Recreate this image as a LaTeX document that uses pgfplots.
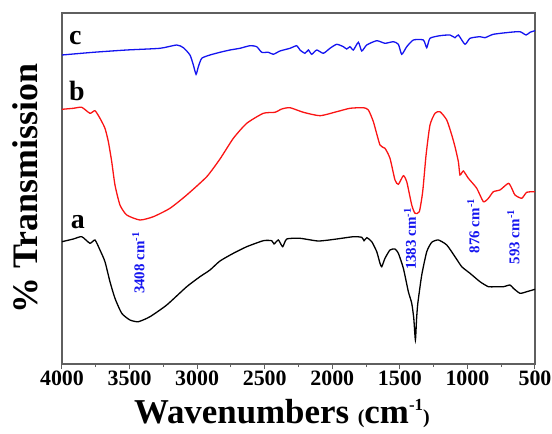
\documentclass[border=0pt]{standalone}
\usepackage{fontspec}
\setmainfont{Liberation Serif}
\usepackage{pgfplots}
\pgfplotsset{compat=1.18}
\definecolor{specblue}{RGB}{20,20,240}
\definecolor{specred}{RGB}{250,20,20}
\definecolor{axgray}{RGB}{95,95,95}
\begin{document}
\begin{tikzpicture}
\path[use as bounding box] (0,0) rectangle (552bp,434bp);
\begin{axis}[
    at={(62bp,70bp)}, anchor=south west,
    width=473bp, height=351bp, scale only axis,
    x dir=reverse,
    xmin=500, xmax=4000, ymin=0, ymax=351,
    xtick={500,1000,...,4000}, minor x tick num=1,
    ytick=\empty,
    xtick pos=bottom, tick align=outside,
    major tick length=5bp, minor tick length=3bp,
    /pgf/number format/1000 sep={},
    /pgf/number format/assume math mode=true,
    xticklabel style={font=\bfseries\fontsize{22}{22}\selectfont, inner sep=2bp},
    axis line style={draw=axgray, line width=1.2bp},
    tick style={draw=axgray, line width=1bp},
    xlabel={\bfseries\fontsize{35}{35}\selectfont Wavenumbers {\fontsize{20}{20}\selectfont(}cm\raisebox{13bp}{\fontsize{17}{17}\selectfont -1}{\fontsize{20}{20}\selectfont)}},
    xlabel style={at={(axis description cs:0.465,-0.14)}, anchor=center},
    ylabel={\% Transmission},
    ylabel style={at={(axis description cs:-0.078,0.5)}, anchor=center, font=\bfseries\fontsize{36}{36}\selectfont},
    clip=false,
    every axis plot/.append style={smooth, tension=0.35, line width=1.3bp},
]
% a
\addplot[black] coordinates {
(4000,122.3)(3916,125)(3854,127.3)(3793,120.7)(3756,124)(3719,114)(3682,102.3)
(3645,82.3)(3608,65.7)(3558,50.7)(3497,44)(3435,42.3)(3349,47.3)(3225,59)
(3077,77.3)(2979,87.3)(2905,94)(2831,103)(2732,110.7)(2633,117.3)(2510,123.3)
(2448,123.3)(2431,120)(2399,124)(2367,117.3)(2337,125)(2239,125.7)(2103,123)
(1967,125)(1844,127.3)(1782,126.7)(1765,123.3)(1745,126.3)(1708,122.3)(1671,112.3)
(1647,100.7)(1634,97.3)(1610,105.7)(1573,114)(1536,115)(1511,110.7)(1474,95.7)
(1437,72.3)(1412,60.7)(1397,45.7)(1385,24)(1376,45.7)(1367,60.7)(1338,89)
(1301,112.3)(1264,121.7)(1215,124)(1153,119)(1092,107.3)(1042,97.3)(981,90.7)
(907,82.3)(845,77.3)(796,77.3)(734,77.3)(685,79)(660,75.7)(611,70.7)(561,72.3)(500,74.7)
};
% b
\addplot[specred] coordinates {
(4000,254.7)(3916,255.7)(3854,256.7)(3793,250.7)(3756,253.3)(3719,245.7)(3682,235.7)
(3657,222.3)(3632,202.3)(3608,179)(3571,159)(3521,149)(3423,144)(3324,147.3)
(3201,155.7)(3077,169)(2929,187.3)(2831,205)(2732,225.7)(2633,240.7)(2510,250.7)
(2424,251.7)(2374,255)(2313,256.3)(2214,251.7)(2091,248.3)(1967,252.3)(1869,255.7)
(1770,256.3)(1733,254)(1696,242.3)(1647,219)(1610,215.7)(1573,205.7)(1536,184)
(1511,179.7)(1474,188.3)(1449,182.3)(1412,159)(1388,150.7)(1356,152.3)(1331,172.3)
(1306,209)(1277,239)(1240,250.7)(1203,252.3)(1153,244)(1116,229)(1092,217.3)
(1067,202.3)(1055,189)(1030,193)(993,185.7)(931,175.7)(882,162.3)(845,165.7)
(808,172.3)(759,174)(697,180.7)(672,175.7)(648,169)(598,165.7)(561,171.7)(500,172.3)
};
% c
\addplot[specblue] coordinates {
(4000,309)(3768,311.7)(3521,314)(3275,315.7)(3151,319)(3102,316.3)(3053,309)
(3028,299)(3008,289.7)(2991,297.3)(2966,305.7)(2905,309)(2831,311.7)(2757,314)
(2683,315.7)(2609,318.3)(2559,317.3)(2522,311.7)(2473,311.7)(2436,309.7)(2387,313)
(2313,315.7)(2263,318.3)(2239,314)(2202,310.7)(2177,314)(2152,309.7)(2115,314)
(2066,310.7)(2017,315.7)(1967,319.7)(1918,317.3)(1893,315)(1869,317.3)(1844,314)
(1807,321.7)(1782,313)(1745,319)(1671,323.3)(1610,320.7)(1548,322.3)(1511,319.7)
(1486,309.7)(1449,317.3)(1400,324)(1326,324)(1301,316.3)(1277,325.7)(1203,328.3)
(1129,329)(1092,326.3)(1067,329)(1018,319.7)(981,325.7)(907,327.3)(870,326.3)
(808,329.7)(685,331.7)(611,332.3)(566,329)(537,331.7)(500,333.3)
};
\node[anchor=base west, font=\bfseries\fontsize{28}{28}\selectfont, inner sep=0pt] at (axis cs:3948,319) {c};
\node[anchor=base west, font=\bfseries\fontsize{28}{28}\selectfont, inner sep=0pt] at (axis cs:3948,263) {b};
\node[anchor=base west, font=\bfseries\fontsize{28}{28}\selectfont, inner sep=0pt] at (axis cs:3935,135) {a};
\begin{scope}[every node/.style={rotate=90, anchor=center, text=specblue, font=\bfseries\fontsize{15}{15}\selectfont, inner sep=0pt}]
\node at (axis cs:3435,101) {3408 cm\textsuperscript{-1}};
\node at (axis cs:1425,125) {1383 cm\textsuperscript{-1}};
\node at (axis cs:956,138) {876 cm\textsuperscript{-1}};
\node at (axis cs:660,127) {593 cm\textsuperscript{-1}};
\end{scope}
\end{axis}
\end{tikzpicture}
\end{document}
